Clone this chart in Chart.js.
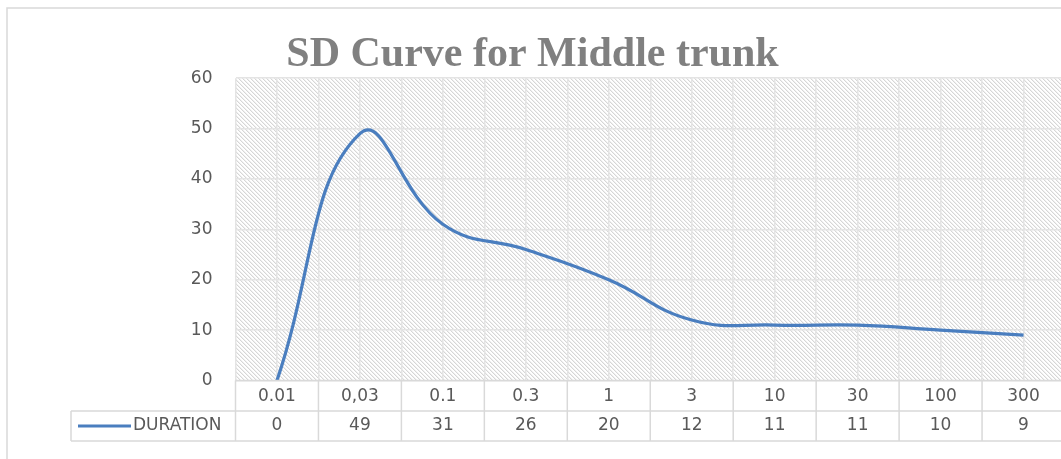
<!DOCTYPE html>
<html>
<head>
<meta charset="utf-8">
<script src="https://cdn.jsdelivr.net/npm/chart.js@4.4.1/dist/chart.umd.min.js"></script>
<style>
  html, body { margin: 0; padding: 0; background: #ffffff; overflow: hidden; }
  #wrap { width: 1061px; height: 459px; overflow: hidden; }
  canvas { display: block; }
</style>
</head>
<body>
<div id="wrap"><canvas id="chart" width="1068" height="459"></canvas></div>
<script>
// Durations (x categories) and measured values
const durations = ['0.01', '0,03', '0.1', '0.3', '1', '3', '10', '30', '100', '300'];
const durationValues = [0, 49, 31, 26, 20, 12, 11, 11, 10, 9];
const seriesName = 'DURATION';
const chartTitle = 'SD Curve for Middle trunk';
const yTicks = [0, 10, 20, 30, 40, 50, 60];

const LINE_COLOR = '#4a7ebf';
const GRID_COLOR = '#e4e4e4';
const TABLE_COLOR = '#d9d9d9';
const TEXT_COLOR = '#595959';
const TEXT_FONT = '17px "DejaVu Sans"';

// Diagonal hatch tile for the plot background
function makeHatch() {
  const t = document.createElement('canvas');
  t.width = 4; t.height = 4;
  const c = t.getContext('2d');
  const img = c.createImageData(4, 4);
  for (let y = 0; y < 4; y++) {
    for (let x = 0; x < 4; x++) {
      const i = (y * 4 + x) * 4;
      const d = (x - y + 4) % 4;
      const v = d === 0 ? 214 : (d === 1 ? 240 : 255);
      img.data[i] = v; img.data[i + 1] = v; img.data[i + 2] = v; img.data[i + 3] = 255;
    }
  }
  c.putImageData(img, 0, 0);
  return t;
}

const backgroundPlugin = {
  id: 'background',
  beforeDraw(chart) {
    const { ctx, chartArea: a, width, height } = chart;
    ctx.save();
    ctx.fillStyle = '#ffffff';
    ctx.fillRect(0, 0, width, height);
    // outer frame
    ctx.strokeStyle = TABLE_COLOR;
    ctx.lineWidth = 1.5;
    ctx.strokeRect(7, 8, width + 20, height + 20);
    // hatched plot area
    ctx.fillStyle = ctx.createPattern(makeHatch(), 'repeat');
    ctx.fillRect(a.left, a.top, a.right - a.left, a.bottom - a.top);
    ctx.restore();
  }
};

// Data table under the category axis
const dataTablePlugin = {
  id: 'dataTable',
  afterDraw(chart) {
    const { ctx, chartArea: a } = chart;
    const xs = chart.scales.x;
    const half = (xs.getPixelForValue(1) - xs.getPixelForValue(0)) / 2;
    const row1 = a.bottom;
    const row2 = row1 + 30.5;
    const row3 = row2 + 30;
    const legendLeft = 71;
    ctx.save();
    ctx.strokeStyle = TABLE_COLOR;
    ctx.lineWidth = 1.5;
    ctx.beginPath();
    ctx.moveTo(a.left, row1); ctx.lineTo(a.right, row1);
    ctx.moveTo(legendLeft, row2); ctx.lineTo(a.right, row2);
    ctx.moveTo(legendLeft, row3); ctx.lineTo(a.right, row3);
    ctx.moveTo(legendLeft, row2); ctx.lineTo(legendLeft, row3);
    for (let i = 0; i <= durations.length; i++) {
      const x = xs.getPixelForValue(0) - half + i * 2 * half;
      ctx.moveTo(x, row1); ctx.lineTo(x, row3);
    }
    ctx.stroke();

    // values
    ctx.fillStyle = TEXT_COLOR;
    ctx.font = TEXT_FONT;
    ctx.textAlign = 'center';
    ctx.textBaseline = 'middle';
    const ym = (row2 + row3) / 2;
    durationValues.forEach((v, i) => {
      ctx.fillText(String(v), xs.getPixelForValue(i), ym);
    });

    // legend key
    ctx.strokeStyle = LINE_COLOR;
    ctx.lineWidth = 3;
    ctx.beginPath();
    ctx.moveTo(78, ym); ctx.lineTo(131, ym);
    ctx.stroke();
    ctx.textAlign = 'left';
    ctx.fillText(seriesName, 133, ym);
    ctx.restore();
  }
};

new Chart(document.getElementById('chart'), {
  type: 'line',
  data: {
    labels: durations,
    datasets: [{
      label: seriesName,
      data: durationValues,
      borderColor: LINE_COLOR,
      borderWidth: 3.2,
      pointRadius: 0,
      tension: 0.45,
      fill: false
    }]
  },
  options: {
    responsive: false,
    animation: false,
    devicePixelRatio: 1,
    layout: { padding: { left: 0, right: 3, top: 0, bottom: 0 } },
    plugins: {
      legend: { display: false },
      tooltip: { enabled: false },
      title: {
        display: true,
        text: chartTitle,
        color: '#808080',
        font: { family: '"Liberation Serif"', size: 42, weight: 'bold', lineHeight: 1.1 },
        padding: { top: 32, bottom: 0 }
      }
    },
    scales: {
      x: {
        type: 'category',
        position: 'bottom',
        offset: true,
        grid: { display: true, offset: true, color: GRID_COLOR, lineWidth: 1.5, drawTicks: false },
        border: { display: false },
        ticks: { color: TEXT_COLOR, font: { family: '"DejaVu Sans"', size: 17 }, padding: 6, maxRotation: 0, autoSkip: false },
        afterFit(s) { s.height = 78.5; }
      },
      x2: {
        type: 'category',
        position: 'bottom',
        labels: durations,
        offset: true,
        grid: { display: true, offset: false, color: GRID_COLOR, lineWidth: 1.5, drawTicks: false },
        border: { display: false },
        ticks: { display: false },
        afterFit(s) { s.height = 0; }
      },
      y: {
        min: 0,
        max: 60,
        afterBuildTicks(s) { s.ticks = yTicks.map(v => ({ value: v })); },
        grid: { color: GRID_COLOR, lineWidth: 1.5, drawTicks: false },
        border: { display: false },
        ticks: { color: TEXT_COLOR, font: { family: '"DejaVu Sans"', size: 17 }, padding: 23 },
        afterFit(s) { s.width = 235.5; }
      }
    }
  },
  plugins: [backgroundPlugin, dataTablePlugin]
});
</script>
</body>
</html>
